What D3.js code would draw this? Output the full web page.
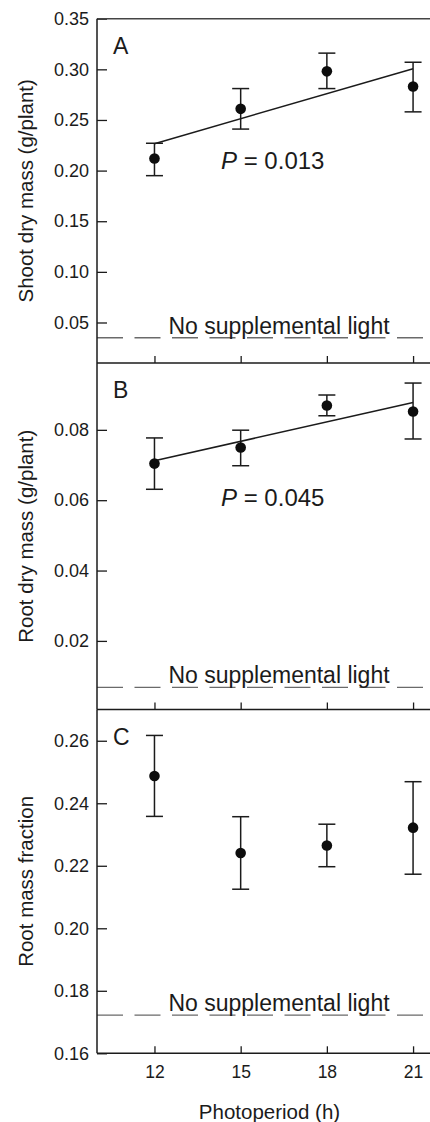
<!DOCTYPE html>
<html>
<head>
<meta charset="utf-8">
<script src="https://cdn.jsdelivr.net/npm/d3@7"></script>
<style>
  html, body { margin: 0; padding: 0; background: #fff; }
  svg { display: block; font-family: "Liberation Sans", Arial, sans-serif; }
</style>
</head>
<body>
<svg id="chart" width="430" height="1122"></svg>
<script>
// ---- data ----
const photoperiod = [12, 15, 18, 21];
const xTicks = [12, 15, 18, 21];

const shootMean = [0.212, 0.261, 0.298, 0.283];
const shootLow  = [0.195, 0.241, 0.281, 0.258];
const shootHigh = [0.227, 0.281, 0.316, 0.307];
const shootFit  = [0.2266, 0.3006];   // regression at 12 h and 21 h
const shootControl = 0.035;
const shootTicks = [0.05, 0.10, 0.15, 0.20, 0.25, 0.30, 0.35];

const rootMean = [0.0704, 0.0750, 0.0869, 0.0852];
const rootLow  = [0.0631, 0.0698, 0.0840, 0.0774];
const rootHigh = [0.0777, 0.0799, 0.0899, 0.0933];
const rootFit  = [0.0712, 0.0878];
const rootControl = 0.0068;
const rootTicks = [0.02, 0.04, 0.06, 0.08];

const rmfMean = [0.2487, 0.2241, 0.2265, 0.2322];
const rmfLow  = [0.2358, 0.2125, 0.2197, 0.2173];
const rmfHigh = [0.2617, 0.2357, 0.2333, 0.2469];
const rmfControl = 0.1722;
const rmfTicks = [0.16, 0.18, 0.20, 0.22, 0.24, 0.26];

const fitX = [12, 21];

// ---- layout ----
const svg = d3.select("#chart");
const left = 97, fullRight = 441.8;
const x = d3.scaleLinear().domain([10, 22]).range([left, fullRight]);

const panels = [
  { letter: "A", title: "Shoot dry mass (g/plant)", domain: [0.01, 0.35], range: [363, 18.7],
    mean: shootMean, low: shootLow, high: shootHigh, fit: shootFit, control: shootControl,
    ticks: shootTicks, fmt: d3.format(".2f"), p: "0.013" },
  { letter: "B", title: "Root dry mass (g/plant)", domain: [0.0005, 0.099], range: [709.5, 363],
    mean: rootMean, low: rootLow, high: rootHigh, fit: rootFit, control: rootControl,
    ticks: rootTicks, fmt: d3.format(".2f"), p: "0.045" },
  { letter: "C", title: "Root mass fraction", domain: [0.16, 0.27], range: [1053.3, 709.5],
    mean: rmfMean, low: rmfLow, high: rmfHigh, fit: null, control: rmfControl,
    ticks: rmfTicks, fmt: d3.format(".2f"), p: null }
];

const ink = "#1b1b1b";

panels.forEach((P, i) => {
  const y = d3.scaleLinear().domain(P.domain).range(P.range);
  const g = svg.append("g");
  const yb = P.range[0], yt = P.range[1];

  // control dashed line
  g.append("line")
    .attr("x1", left).attr("x2", 430)
    .attr("y1", y(P.control)).attr("y2", y(P.control))
    .attr("stroke", "#6a6a6a").attr("stroke-width", 1.4)
    .attr("stroke-dasharray", "26,11.5");

  g.append("text")
    .attr("x", 279).attr("y", y(P.control) - 4)
    .attr("text-anchor", "middle")
    .attr("font-size", 23).attr("fill", ink)
    .text("No supplemental light");

  // y axis
  const ya = g.append("g").attr("transform", `translate(${left},0)`)
    .call(d3.axisLeft(y).tickValues(P.ticks).tickFormat(P.fmt)
      .tickSize(-10).tickSizeOuter(0).tickPadding(8));
  ya.select(".domain").remove();
  ya.selectAll(".tick line").attr("stroke", ink).attr("stroke-width", 1.3);
  ya.selectAll(".tick text").attr("font-size", 18).attr("fill", ink)
    .attr("font-family", "Liberation Sans, Arial, sans-serif");

  // x axis (bottom)
  const xa = g.append("g").attr("transform", `translate(0,${yb})`)
    .call(d3.axisBottom(x).tickValues(xTicks).tickFormat(d3.format("d"))
      .tickSize(-7).tickSizeOuter(0).tickPadding(12));
  xa.select(".domain").remove();
  xa.selectAll(".tick line").attr("stroke", ink).attr("stroke-width", 1.3);
  xa.selectAll(".tick text").attr("font-size", 17.5).attr("fill", ink)
    .attr("font-family", "Liberation Sans, Arial, sans-serif");
  if (i < panels.length - 1) xa.selectAll(".tick text").remove();

  // frame lines
  g.append("line").attr("x1", left).attr("x2", 430).attr("y1", yb).attr("y2", yb)
    .attr("stroke", ink).attr("stroke-width", 1.5);
  if (i === 0) {
    g.append("line").attr("x1", left).attr("x2", 430).attr("y1", yt).attr("y2", yt)
      .attr("stroke", "#444").attr("stroke-width", 1.5);
  }
  g.append("line").attr("x1", left).attr("x2", left).attr("y1", yt).attr("y2", yb)
    .attr("stroke", ink).attr("stroke-width", 1.5);

  // regression line
  if (P.fit) {
    g.append("path")
      .datum(fitX.map((d, k) => [d, P.fit[k]]))
      .attr("d", d3.line().x(d => x(d[0])).y(d => y(d[1])))
      .attr("fill", "none").attr("stroke", ink).attr("stroke-width", 1.5);
  }

  // error bars
  const data = photoperiod.map((d, k) => ({ x: d, m: P.mean[k], lo: P.low[k], hi: P.high[k] }));
  const eb = g.append("g").attr("stroke", ink).attr("stroke-width", 1.5);
  eb.selectAll("line.v").data(data).join("line").attr("class", "v")
    .attr("x1", d => x(d.x)).attr("x2", d => x(d.x))
    .attr("y1", d => y(d.lo)).attr("y2", d => y(d.hi));
  eb.selectAll("line.hi").data(data).join("line").attr("class", "hi")
    .attr("x1", d => x(d.x) - 8.5).attr("x2", d => x(d.x) + 8.5)
    .attr("y1", d => y(d.hi)).attr("y2", d => y(d.hi));
  eb.selectAll("line.lo").data(data).join("line").attr("class", "lo")
    .attr("x1", d => x(d.x) - 8.5).attr("x2", d => x(d.x) + 8.5)
    .attr("y1", d => y(d.lo)).attr("y2", d => y(d.lo));

  g.selectAll("circle").data(data).join("circle")
    .attr("cx", d => x(d.x)).attr("cy", d => y(d.m)).attr("r", 5.3)
    .attr("fill", "#0d0d0d");

  // panel letter
  g.append("text").attr("x", 113).attr("y", yt + 35)
    .attr("font-size", 23).attr("fill", ink).text(P.letter);

  // P value
  if (P.p) {
    const pt = g.append("text").attr("x", 221).attr("y", (i === 0 ? 169 : 506))
      .attr("font-size", 24).attr("fill", ink);
    pt.append("tspan").attr("font-style", "italic").text("P");
    pt.append("tspan").text(" = " + P.p);
  }

  // y title
  const cy = (yt + yb) / 2;
  g.append("text")
    .attr("transform", `translate(33,${cy}) rotate(-90)`)
    .attr("text-anchor", "middle")
    .attr("font-size", 20.5).attr("fill", ink)
    .text(P.title);
});

// x title
svg.append("text").attr("x", 269.5).attr("y", 1119)
  .attr("text-anchor", "middle").attr("font-size", 20.5).attr("fill", ink)
  .text("Photoperiod (h)");
</script>
</body>
</html>
